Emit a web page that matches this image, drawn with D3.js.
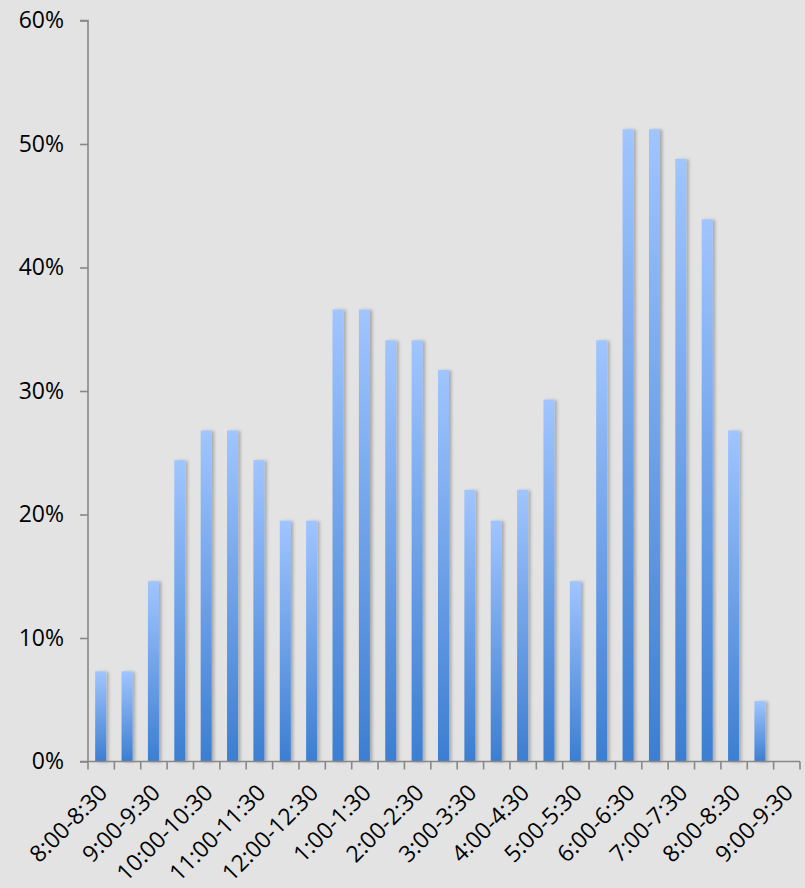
<!DOCTYPE html>
<html>
<head>
<meta charset="utf-8">
<script src="https://cdn.jsdelivr.net/npm/d3@7/dist/d3.min.js"></script>
<style>
  html, body { margin: 0; padding: 0; background: #e3e3e3; }
  svg { display: block; }
</style>
</head>
<body>
<div id="chart"></div>
<script>
// Data
const categories = [
  "8:00-8:30","8:30-9:00","9:00-9:30","9:30-10:00","10:00-10:30","10:30-11:00",
  "11:00-11:30","11:30-12:00","12:00-12:30","12:30-1:00","1:00-1:30","1:30-2:00",
  "2:00-2:30","2:30-3:00","3:00-3:30","3:30-4:00","4:00-4:30","4:30-5:00",
  "5:00-5:30","5:30-6:00","6:00-6:30","6:30-7:00","7:00-7:30","7:30-8:00",
  "8:00-8:30 ","8:30-9:00 ","9:00-9:30 "
];
const values = [
  7.3, 7.3, 14.6, 24.4, 26.8, 26.8, 24.4, 19.5, 19.5, 36.6, 36.6, 34.1, 34.1,
  31.7, 22.0, 19.5, 22.0, 29.3, 14.6, 34.1, 51.2, 51.2, 48.8, 43.9, 26.8, 4.9, 0
];
const yTicks = [0, 10, 20, 30, 40, 50, 60];

const W = 805, H = 888;
const margin = { left: 88, right: 5, top: 20.5, bottom: 126.5 };
const iw = W - margin.left - margin.right;
const ih = H - margin.top - margin.bottom;

const svg = d3.select("#chart").append("svg").attr("width", W).attr("height", H);
svg.append("rect").attr("width", W).attr("height", H).attr("fill", "#e3e3e3");

const defs = svg.append("defs");
const grad = defs.append("linearGradient").attr("id", "barGrad")
  .attr("x1", 0).attr("y1", 0).attr("x2", 0).attr("y2", 1);
grad.append("stop").attr("offset", "0%").attr("stop-color", "#a0c5ff");
grad.append("stop").attr("offset", "100%").attr("stop-color", "#3c7ed1");

const sh = defs.append("filter").attr("id", "shadow")
  .attr("x", "-50%").attr("y", "-5%").attr("width", "200%").attr("height", "110%");
sh.append("feDropShadow").attr("dx", 2.5).attr("dy", 0.5).attr("stdDeviation", 1.5)
  .attr("flood-color", "#000").attr("flood-opacity", 0.25);

const lsh = defs.append("filter").attr("id", "lshadow")
  .attr("x", "-5%").attr("y", "-200%").attr("width", "110%").attr("height", "500%");
lsh.append("feDropShadow").attr("dx", 0).attr("dy", 1).attr("stdDeviation", 0.8)
  .attr("flood-color", "#000").attr("flood-opacity", 0.2);

const g = svg.append("g").attr("transform", `translate(${margin.left},${margin.top})`);

const x = d3.scaleBand().domain(categories).range([0, iw]).paddingInner(0).paddingOuter(0);
const y = d3.scaleLinear().domain([0, 60]).range([ih, 0]);

// Gridlines
g.append("g").selectAll("line").data(yTicks.filter(d => d > 0)).join("line")
  .attr("x1", 0).attr("x2", iw)
  .attr("y1", d => y(d)).attr("y2", d => y(d))
  .attr("stroke", "#828282").attr("stroke-width", 1.7)
  .attr("filter", "url(#lshadow)");

// Y axis
const yAxis = d3.axisLeft(y).tickValues(yTicks).tickFormat(d => d + "%").tickSize(8).tickPadding(16);
const ya = g.append("g").call(yAxis);
ya.select(".domain").attr("stroke", "#888").attr("stroke-width", 1.6).attr("d", `M-8,${ih}H0V0H-8`);
ya.selectAll(".tick line").attr("stroke", "#888").attr("stroke-width", 1.6);
ya.selectAll(".tick text").attr("font-family", "'Open Sans', sans-serif").attr("font-size", 23)
  .attr("fill", "#000");

// Bars
const bw = 11;
g.append("g").selectAll("rect").data(values.map((v, i) => ({ c: categories[i], v })).filter(d => d.v > 0))
  .join("rect")
  .attr("x", d => x(d.c) + x.bandwidth() / 2 - bw / 2 - 0.5)
  .attr("width", bw)
  .attr("y", d => y(d.v))
  .attr("height", d => ih - y(d.v))
  .attr("fill", "url(#barGrad)")
  .attr("filter", "url(#shadow)");

// X axis line and ticks
const xa = g.append("g").attr("transform", `translate(0,${ih})`);
xa.append("line").attr("x1", 0).attr("x2", iw).attr("y1", 0).attr("y2", 0)
  .attr("stroke", "#888").attr("stroke-width", 1.6);
const boundaries = categories.map(c => x(c)).concat([iw]);
xa.selectAll("line.tk").data(boundaries).join("line").attr("class", "tk")
  .attr("x1", d => d).attr("x2", d => d).attr("y1", 0).attr("y2", 8)
  .attr("stroke", "#888").attr("stroke-width", 1.6);

// X labels (every other category)
xa.selectAll("text").data(categories.filter((c, i) => i % 2 === 0)).join("text")
  .attr("transform", d => `translate(${x(d) + x.bandwidth() / 2 + 2},${27}) rotate(-45)`)
  .attr("text-anchor", "end")
  .attr("dy", "0.35em")
  .attr("font-family", "'Open Sans', sans-serif")
  .attr("font-size", 23)
  .attr("fill", "#000")
  .text(d => d.trim());
</script>
</body>
</html>
